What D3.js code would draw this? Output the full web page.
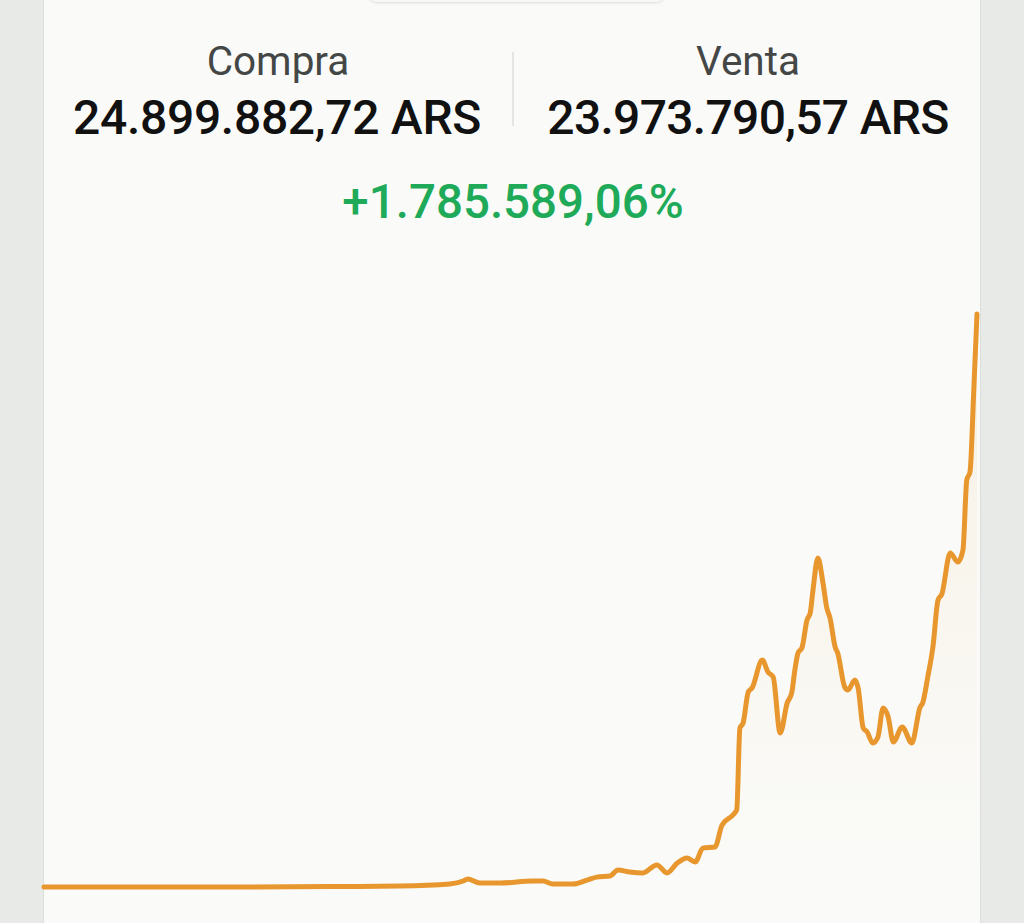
<!DOCTYPE html>
<html>
<head>
<meta charset="utf-8">
<script src="https://cdn.jsdelivr.net/npm/d3@7"></script>
<style>
  html, body { margin: 0; padding: 0; background: #e8eae8; }
  svg { display: block; }
</style>
</head>
<body>
<svg id="chart" width="1024" height="923"></svg>
<script>
// ---- Data ----
const labelCompra = "Compra";
const labelVenta = "Venta";
const valorCompra = "24.899.882,72 ARS";
const valorVenta = "23.973.790,57 ARS";
const variacion = "+1.785.589,06%";

// time (decimal years) and price (millions of ARS)
const fechas = [2010.60, 2012.26, 2013.82, 2015.08, 2016.17, 2016.95, 2017.16, 2017.23, 2017.42, 2017.74,
  2018.25, 2018.41, 2018.56, 2018.88, 2019.10, 2019.25, 2019.46, 2019.58, 2019.77, 2019.97,
  2020.19, 2020.35, 2020.51, 2020.66, 2020.79, 2020.91, 2021.10, 2021.21, 2021.38, 2021.44,
  2021.49, 2021.54, 2021.62, 2021.68, 2021.84, 2021.93, 2022.01, 2022.12, 2022.23, 2022.30,
  2022.35, 2022.40, 2022.46, 2022.54, 2022.59, 2022.63, 2022.71, 2022.79, 2022.85, 2022.90,
  2022.98, 2023.02, 2023.13, 2023.18, 2023.29, 2023.34, 2023.42, 2023.48, 2023.57, 2023.65,
  2023.73, 2023.81, 2023.89, 2024.03, 2024.18, 2024.31, 2024.35, 2024.43, 2024.51, 2024.59,
  2024.65, 2024.78, 2024.90, 2024.98, 2025.04, 2025.09, 2025.15, 2025.20];
const precios = [0.00, 0.00, 0.00, 0.02, 0.04, 0.13, 0.26, 0.35, 0.17, 0.17,
  0.26, 0.26, 0.13, 0.13, 0.30, 0.43, 0.48, 0.74, 0.65, 0.61,
  0.96, 0.61, 1.04, 1.26, 1.09, 1.69, 1.74, 2.69, 3.13, 3.35,
  6.91, 7.13, 8.47, 8.65, 9.86, 9.34, 9.13, 6.69, 8.00, 8.43,
  9.43, 10.17, 10.39, 11.60, 11.91, 12.82, 14.30, 13.21, 12.12, 11.69,
  10.43, 10.17, 8.69, 8.56, 9.00, 8.65, 6.91, 6.74, 6.26, 6.52,
  7.78, 7.39, 6.30, 6.95, 6.26, 7.82, 8.00, 9.13, 10.43, 12.47,
  12.73, 14.51, 14.12, 14.64, 17.69, 18.03, 21.60, 24.90];

const serie = fechas.map((f, i) => ({ t: f, v: precios[i] }));

// ---- Layout ----
const W = 1024, H = 923;
const cardL = 44, cardR = 980;
const svg = d3.select("#chart");
const defs = svg.append("defs");

const shadow = defs.append("filter").attr("id", "sh").attr("x", "-10%").attr("y", "-50%").attr("width", "120%").attr("height", "200%");
shadow.append("feDropShadow").attr("dx", 0).attr("dy", 1).attr("stdDeviation", 1.5).attr("flood-color", "#000").attr("flood-opacity", 0.12);

// card
svg.append("rect").attr("x", cardL - 1).attr("y", 0).attr("width", cardR - cardL + 2).attr("height", H)
  .attr("fill", "#dcdedc");
svg.append("rect").attr("x", cardL).attr("y", 0).attr("width", cardR - cardL).attr("height", H)
  .attr("fill", "#fafbf9");

// top tab
svg.append("rect").attr("x", 365).attr("y", -40).attr("width", 303).attr("height", 42).attr("rx", 14)
  .attr("fill", "#f8f9f7").attr("filter", "url(#sh)");

// header texts
const colL = cardL + (cardR - cardL) / 4;
const colR = cardL + 3 * (cardR - cardL) / 4;
const mid = (cardL + cardR) / 2;
const font = "Roboto, 'Noto Sans', sans-serif";

svg.append("text").attr("x", colL).attr("y", 75).attr("text-anchor", "middle")
  .attr("font-family", font).attr("font-size", 40.5).attr("fill", "#444746").text(labelCompra);
svg.append("text").attr("x", colR + 2).attr("y", 75).attr("text-anchor", "middle")
  .attr("font-family", font).attr("font-size", 40.5).attr("fill", "#444746").text(labelVenta);
svg.append("text").attr("x", colL - 1).attr("y", 134).attr("text-anchor", "middle")
  .attr("font-family", font).attr("font-weight", 500).attr("font-size", 48).attr("letter-spacing", -0.3)
  .attr("fill", "#111").text(valorCompra);
svg.append("text").attr("x", colR + 2).attr("y", 134).attr("text-anchor", "middle")
  .attr("font-family", font).attr("font-weight", 500).attr("font-size", 48).attr("letter-spacing", -0.7)
  .attr("fill", "#111").text(valorVenta);
svg.append("line").attr("x1", mid + 1).attr("x2", mid + 1).attr("y1", 52).attr("y2", 126)
  .attr("stroke", "#e3e5e3").attr("stroke-width", 2);
svg.append("text").attr("x", mid + 1).attr("y", 218).attr("text-anchor", "middle")
  .attr("font-family", font).attr("font-weight", 500).attr("font-size", 47.5).attr("fill", "#1eaa58").text(variacion);

// ---- Scales ----
const x = d3.scaleLinear().domain(d3.extent(fechas)).range([cardL, 977]);
const y = d3.scaleLinear().domain([0, d3.max(precios)]).range([887, 314]);

const grad = defs.append("linearGradient").attr("id", "ag").attr("gradientUnits", "userSpaceOnUse")
  .attr("x1", 0).attr("x2", 0).attr("y1", y(d3.max(precios))).attr("y2", y(0));
grad.append("stop").attr("offset", 0).attr("stop-color", "#e8962e").attr("stop-opacity", 0.10);
grad.append("stop").attr("offset", 1).attr("stop-color", "#e8962e").attr("stop-opacity", 0.0);

const area = d3.area().x(d => x(d.t)).y0(y(0)).y1(d => y(d.v)).curve(d3.curveMonotoneX);
const line = d3.line().x(d => x(d.t)).y(d => y(d.v)).curve(d3.curveMonotoneX);

svg.append("path").datum(serie).attr("d", area).attr("fill", "url(#ag)");
svg.append("path").datum(serie).attr("d", line).attr("fill", "none")
  .attr("stroke", "#e8962e").attr("stroke-width", 5).attr("stroke-linejoin", "round").attr("stroke-linecap", "round");
</script>
</body>
</html>
